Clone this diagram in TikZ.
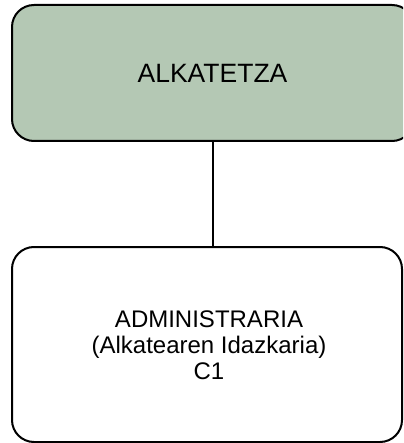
\documentclass[tikz,border=0pt]{standalone}
\usepackage{fontspec}
\setmainfont{Liberation Sans}
\definecolor{boxgreen}{RGB}{180,200,180}
\begin{document}
\begin{tikzpicture}[x=1pt,y=-1pt,
  orgbox/.style={draw=black,line width=2pt,rounded corners=22pt},
  link/.style={draw=black,line width=2pt}]
\useasboundingbox (0,0) rectangle (403,443);
\begin{scope}
\clip (0,0) rectangle (403,443);
\draw[orgbox,fill=boxgreen] (12,5) rectangle (414,141);
\draw[orgbox,fill=white] (12,247) rectangle (402,442);
\end{scope}
\node[font=\fontsize{26.5}{30}\selectfont,anchor=base] (top) at (212.5,83) {ALKATETZA};
\node[font=\fontsize{24}{26}\selectfont,align=center] (bot) at (209,345) {ADMINISTRARIA\\(Alkatearen Idazkaria)\\C1};
\coordinate (a) at (213,141);
\coordinate (b) at (213,247);
\draw[link] (a) -- (b);
\end{tikzpicture}
\end{document}
